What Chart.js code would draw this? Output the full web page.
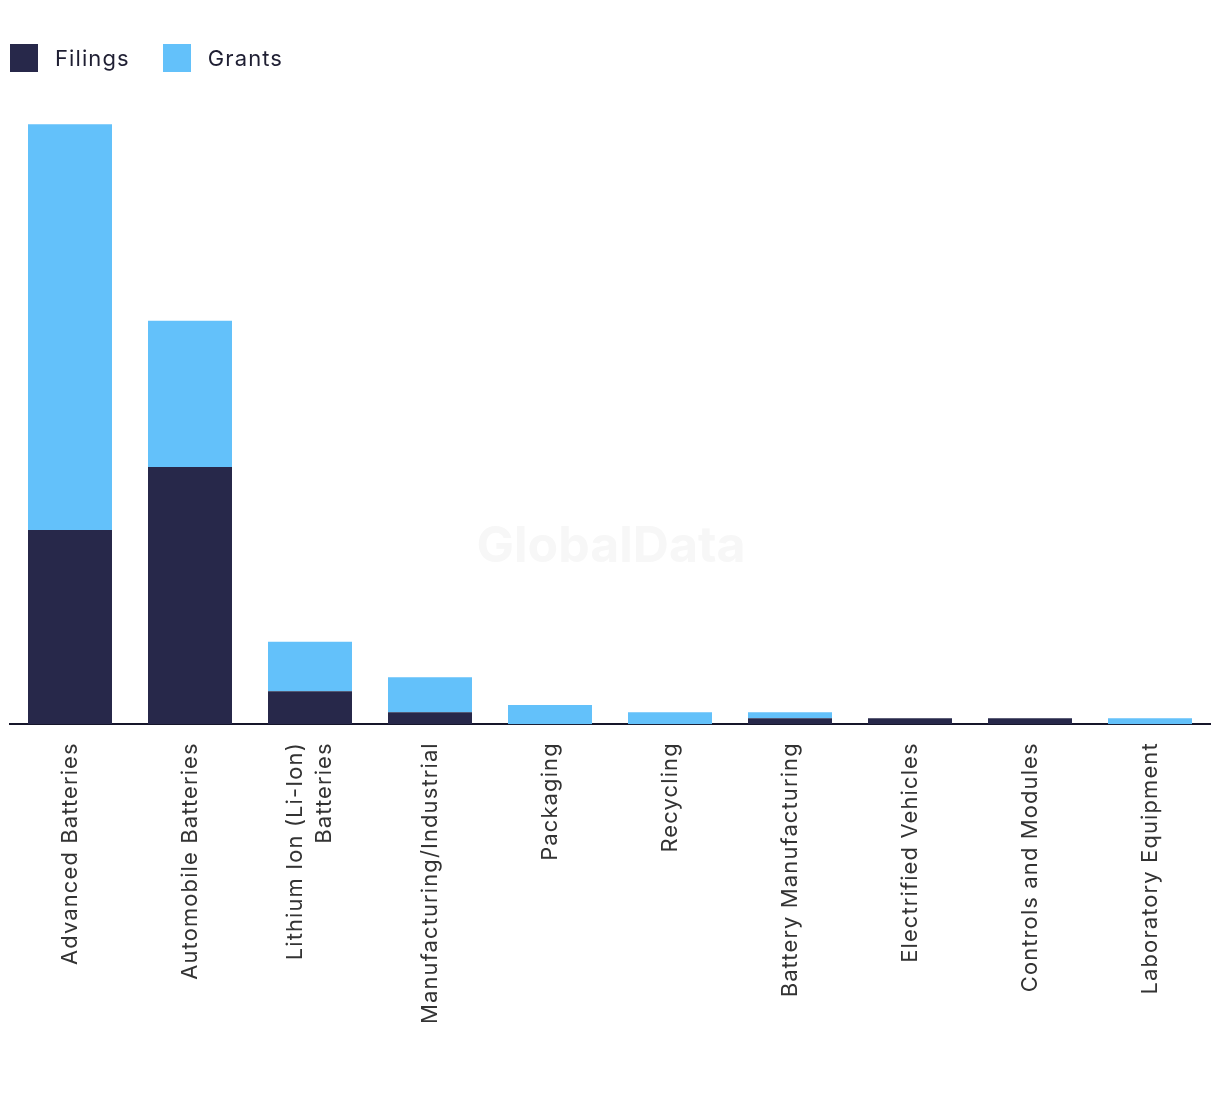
<!DOCTYPE html>
<html>
<head>
<meta charset="utf-8">
<script src="https://cdn.jsdelivr.net/npm/chart.js@4/dist/chart.umd.min.js"></script>
<style>
  html, body { margin: 0; padding: 0; background: #fff; }
  #wrap { position: relative; width: 1220px; height: 1094px; }
  #legend { position: absolute; left: 10px; top: 44px; display: flex; font-family: Inter, "Noto Sans", sans-serif; font-size: 22px; letter-spacing: 1.1px; color: #1f1f33; }
  .item { display: flex; align-items: center; margin-right: 33px; }
  .box { width: 28px; height: 28px; margin-right: 17px; }
</style>
</head>
<body>
<div id="wrap">
  <div id="legend">
    <div class="item"><span class="box" style="background:#27284a"></span>Filings</div>
    <div class="item"><span class="box" style="background:#63c1fa"></span>Grants</div>
  </div>
  <canvas id="chart"></canvas>
</div>
<script>
const categories = [
  'Advanced Batteries',
  'Automobile Batteries',
  ['Lithium Ion (Li-Ion)', 'Batteries'],
  'Manufacturing/Industrial',
  'Packaging',
  'Recycling',
  'Battery Manufacturing',
  'Electrified Vehicles',
  'Controls and Modules',
  'Laboratory Equipment'
];
const filings = [32.3, 42.8, 5.5, 2, 0, 0, 1, 1, 1, 0];
const grants = [67.5, 24.3, 8.2, 5.8, 3.2, 2, 1, 0, 0, 1];

const FILINGS_COLOR = '#27284a';
const GRANTS_COLOR = '#63c1fa';

// a bit of tracking on the tick text, like the original font
const spacing = {
  id: 'spacing',
  beforeUpdate(chart) { chart.ctx.letterSpacing = '1.1px'; },
  beforeDraw(chart) {
    chart.ctx.letterSpacing = '1.1px';
    // centre the two-line label on its bar
    const items = chart.scales.x.getLabelItems();
    items.forEach(it => {
      if (Array.isArray(it.label) && !it._shifted) {
        it.options.translation[0] -= 15;
        it._shifted = true;
      }
    });
  }
};

// faint watermark behind the bars
const watermark = {
  id: 'watermark',
  beforeDatasetsDraw(chart) {
    const { ctx } = chart;
    ctx.save();
    ctx.letterSpacing = '0px';
    ctx.font = 'bold 50px Inter, "Noto Sans", sans-serif';
    ctx.fillStyle = '#f7f7f7';
    ctx.textAlign = 'center';
    ctx.textBaseline = 'middle';
    ctx.fillText('GlobalData', 611, 547);
    ctx.restore();
  }
};

const ctx = document.getElementById('chart').getContext('2d');
new Chart(ctx, {
  type: 'bar',
  data: {
    labels: categories,
    datasets: [
      { label: 'Filings', data: filings, backgroundColor: FILINGS_COLOR },
      { label: 'Grants', data: grants, backgroundColor: GRANTS_COLOR }
    ]
  },
  options: {
    responsive: true,
    maintainAspectRatio: false,
    animation: false,
    layout: { padding: { top: 123, left: 10, right: 10, bottom: 60 } },
    datasets: { bar: { categoryPercentage: 1, barPercentage: 0.7 } },
    plugins: {
      legend: { display: false },
      tooltip: { enabled: false }
    },
    scales: {
      x: {
        stacked: true,
        grid: { display: false },
        border: { display: true, color: '#16162a', width: 2 },
        ticks: {
          color: '#333',
          font: { family: 'Inter, "Noto Sans", sans-serif', size: 22, lineHeight: 1.35 },
          minRotation: 90,
          maxRotation: 90,
          padding: 10,
          autoSkip: false
        }
      },
      y: {
        stacked: true,
        display: false,
        min: 0,
        max: 100
      }
    }
  },
  plugins: [spacing, watermark]
});
</script>
</body>
</html>
